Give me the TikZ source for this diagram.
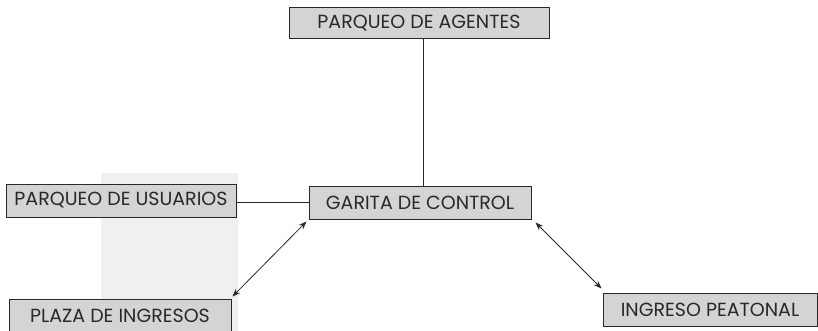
\documentclass[tikz,border=0pt]{standalone}
\usepackage{fontspec}
\setmainfont{Poppins}
\usepackage{tikz}
\usetikzlibrary{arrows.meta, positioning, calc}
\definecolor{boxgray}{RGB}{212,212,212}
\definecolor{linegray}{RGB}{40,40,40}
\definecolor{shadegray}{RGB}{240,240,240}

\begin{document}
\begin{tikzpicture}[x=1pt, y=-1pt,
  area/.style={draw=linegray, line width=1pt, fill=boxgray, text=linegray,
    inner sep=0pt, minimum height=33pt, font=\fontsize{19}{20}\selectfont},
  link/.style={linegray, line width=0.8pt},
  twoway/.style={linegray, line width=0.8pt, {Stealth[length=8pt,width=6pt]}-{Stealth[length=8pt,width=6pt]}}]
  % marco
  \useasboundingbox (0,0) rectangle (818,331);
  \clip (0,0) rectangle (818,331);

  % franja de fondo
  \fill[shadegray] (101,173) rectangle (238,331);

  % zonas
  \node[area, minimum width=260pt, minimum height=31pt] (agentes) at (419,23.5) {PARQUEO DE AGENTES};
  \node[area, minimum width=222pt] (garita) at (420,202.5) {GARITA DE CONTROL};
  \node[area, minimum width=230pt] (usuarios) at (121,200.5) {PARQUEO DE USUARIOS};
  \node[area, minimum width=222pt] (plaza) at (120,315.5) {PLAZA DE INGRESOS};
  \node[area, minimum width=214pt] (peatonal) at (710,309.5) {INGRESO PEATONAL};

  % conexiones
  \draw[link] ($(agentes.south)+(4,0)$) -- ($(agentes.south |- garita.north)+(4,0)$);
  \draw[link] ($(usuarios.east)+(0,2)$) -- ($(usuarios.east -| garita.west)+(0,2)$);
  \draw[twoway] ($(plaza.north east)+(1,-2)$) -- ($(garita.south west)+(-2,2)$);
  \draw[twoway] ($(garita.south east)+(4,3)$) -- ($(peatonal.north west)+(-1,-4)$);
\end{tikzpicture}
\end{document}
